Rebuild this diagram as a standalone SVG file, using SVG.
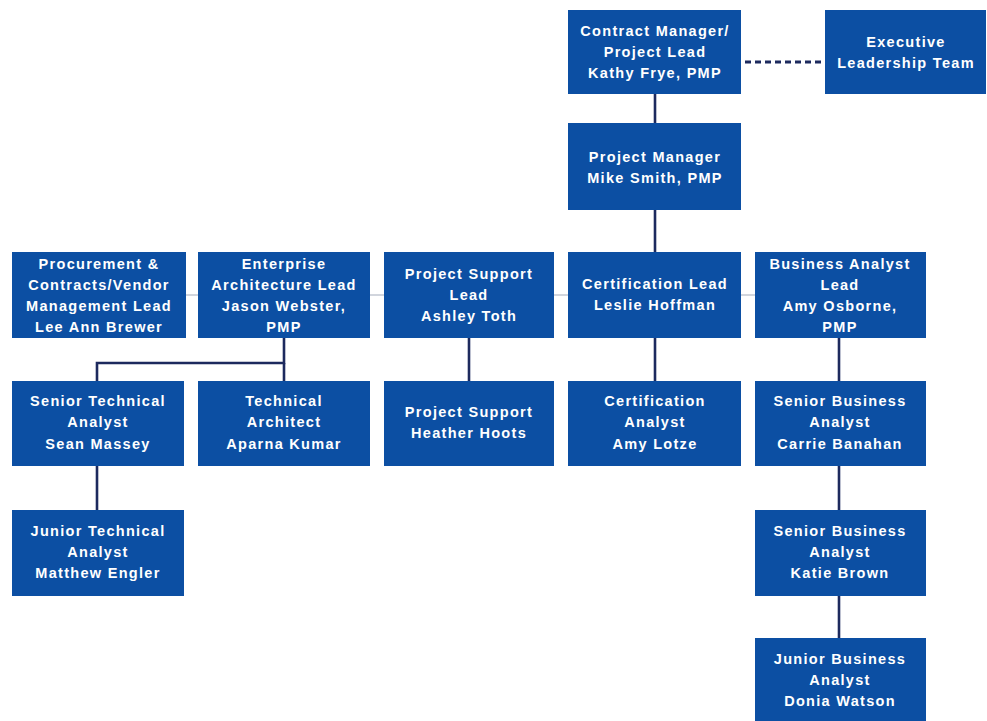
<svg xmlns="http://www.w3.org/2000/svg" width="987" height="721" viewBox="0 0 987 721">
  <style>
    .box { fill: #0c4fa3; }
    .lbl { fill: #ffffff; font-family: "Liberation Sans", Arial, sans-serif; font-size: 14.5px; font-weight: bold; letter-spacing: 1.3px; text-anchor: middle; }
    .link { stroke: #1d2a5e; stroke-width: 2.6; fill: none; }
    .peer { stroke: #a3abbb; stroke-width: 1.2; fill: none; }
    .dotted { stroke: #1d2a5e; stroke-width: 3; stroke-dasharray: 6 4; fill: none; }
  </style>
  <rect width="987" height="721" fill="#ffffff"/>

  <!-- reporting lines -->
  <g id="connectors">
    <line class="peer" x1="186" y1="295" x2="755" y2="295"/>
    <line class="dotted" x1="745" y1="62" x2="825" y2="62"/>
    <line class="link" x1="655" y1="94" x2="655" y2="123"/>
    <line class="link" x1="655" y1="210" x2="655" y2="252"/>
    <polyline class="link" points="284,338 284,363 97,363 97,381"/>
    <line class="link" x1="284" y1="363" x2="284" y2="381"/>
    <line class="link" x1="469" y1="338" x2="469" y2="381"/>
    <line class="link" x1="655" y1="338" x2="655" y2="381"/>
    <line class="link" x1="839" y1="338" x2="839" y2="381"/>
    <line class="link" x1="97" y1="466" x2="97" y2="510"/>
    <line class="link" x1="839" y1="466" x2="839" y2="510"/>
    <line class="link" x1="839" y1="596" x2="839" y2="638"/>
  </g>

  <g id="contract-manager">
    <rect class="box" x="568" y="10" width="173" height="84"/>
    <text class="lbl" x="655" y="36">Contract Manager/</text>
    <text class="lbl" x="655" y="57">Project Lead</text>
    <text class="lbl" x="655" y="78">Kathy Frye, PMP</text>
  </g>

  <g id="executive-team">
    <rect class="box" x="825" y="10" width="161" height="84"/>
    <text class="lbl" x="906" y="47">Executive</text>
    <text class="lbl" x="906" y="68">Leadership Team</text>
  </g>

  <g id="project-manager">
    <rect class="box" x="568" y="123" width="173" height="87"/>
    <text class="lbl" x="655" y="162">Project Manager</text>
    <text class="lbl" x="655" y="183">Mike Smith, PMP</text>
  </g>

  <g id="procurement-lead">
    <rect class="box" x="12" y="252" width="174" height="86"/>
    <text class="lbl" x="99" y="269">Procurement &amp;</text>
    <text class="lbl" x="99" y="290">Contracts/Vendor</text>
    <text class="lbl" x="99" y="311">Management Lead</text>
    <text class="lbl" x="99" y="332">Lee Ann Brewer</text>
  </g>

  <g id="enterprise-architecture-lead">
    <rect class="box" x="198" y="252" width="172" height="86"/>
    <text class="lbl" x="284" y="269">Enterprise</text>
    <text class="lbl" x="284" y="290">Architecture Lead</text>
    <text class="lbl" x="284" y="311">Jason Webster,</text>
    <text class="lbl" x="284" y="332">PMP</text>
  </g>

  <g id="project-support-lead">
    <rect class="box" x="384" y="252" width="170" height="86"/>
    <text class="lbl" x="469" y="279">Project Support</text>
    <text class="lbl" x="469" y="300">Lead</text>
    <text class="lbl" x="469" y="321">Ashley Toth</text>
  </g>

  <g id="certification-lead">
    <rect class="box" x="568" y="252" width="173" height="86"/>
    <text class="lbl" x="655" y="289">Certification Lead</text>
    <text class="lbl" x="655" y="310">Leslie Hoffman</text>
  </g>

  <g id="business-analyst-lead">
    <rect class="box" x="755" y="252" width="171" height="86"/>
    <text class="lbl" x="840" y="269">Business Analyst</text>
    <text class="lbl" x="840" y="290">Lead</text>
    <text class="lbl" x="840" y="311">Amy Osborne,</text>
    <text class="lbl" x="840" y="332">PMP</text>
  </g>

  <g id="senior-technical-analyst">
    <rect class="box" x="12" y="381" width="172" height="85"/>
    <text class="lbl" x="98" y="406">Senior Technical</text>
    <text class="lbl" x="98" y="427">Analyst</text>
    <text class="lbl" x="98" y="449">Sean Massey</text>
  </g>

  <g id="technical-architect">
    <rect class="box" x="198" y="381" width="172" height="85"/>
    <text class="lbl" x="284" y="406">Technical</text>
    <text class="lbl" x="284" y="427">Architect</text>
    <text class="lbl" x="284" y="449">Aparna Kumar</text>
  </g>

  <g id="project-support">
    <rect class="box" x="384" y="381" width="170" height="85"/>
    <text class="lbl" x="469" y="417">Project Support</text>
    <text class="lbl" x="469" y="438">Heather Hoots</text>
  </g>

  <g id="certification-analyst">
    <rect class="box" x="568" y="381" width="173" height="85"/>
    <text class="lbl" x="655" y="406">Certification</text>
    <text class="lbl" x="655" y="427">Analyst</text>
    <text class="lbl" x="655" y="449">Amy Lotze</text>
  </g>

  <g id="senior-business-analyst-1">
    <rect class="box" x="755" y="381" width="171" height="85"/>
    <text class="lbl" x="840" y="406">Senior Business</text>
    <text class="lbl" x="840" y="427">Analyst</text>
    <text class="lbl" x="840" y="449">Carrie Banahan</text>
  </g>

  <g id="junior-technical-analyst">
    <rect class="box" x="12" y="510" width="172" height="86"/>
    <text class="lbl" x="98" y="536">Junior Technical</text>
    <text class="lbl" x="98" y="557">Analyst</text>
    <text class="lbl" x="98" y="578">Matthew Engler</text>
  </g>

  <g id="senior-business-analyst-2">
    <rect class="box" x="755" y="510" width="171" height="86"/>
    <text class="lbl" x="840" y="536">Senior Business</text>
    <text class="lbl" x="840" y="557">Analyst</text>
    <text class="lbl" x="840" y="578">Katie Brown</text>
  </g>

  <g id="junior-business-analyst">
    <rect class="box" x="755" y="638" width="171" height="86"/>
    <text class="lbl" x="840" y="664">Junior Business</text>
    <text class="lbl" x="840" y="685">Analyst</text>
    <text class="lbl" x="840" y="706">Donia Watson</text>
  </g>
</svg>
